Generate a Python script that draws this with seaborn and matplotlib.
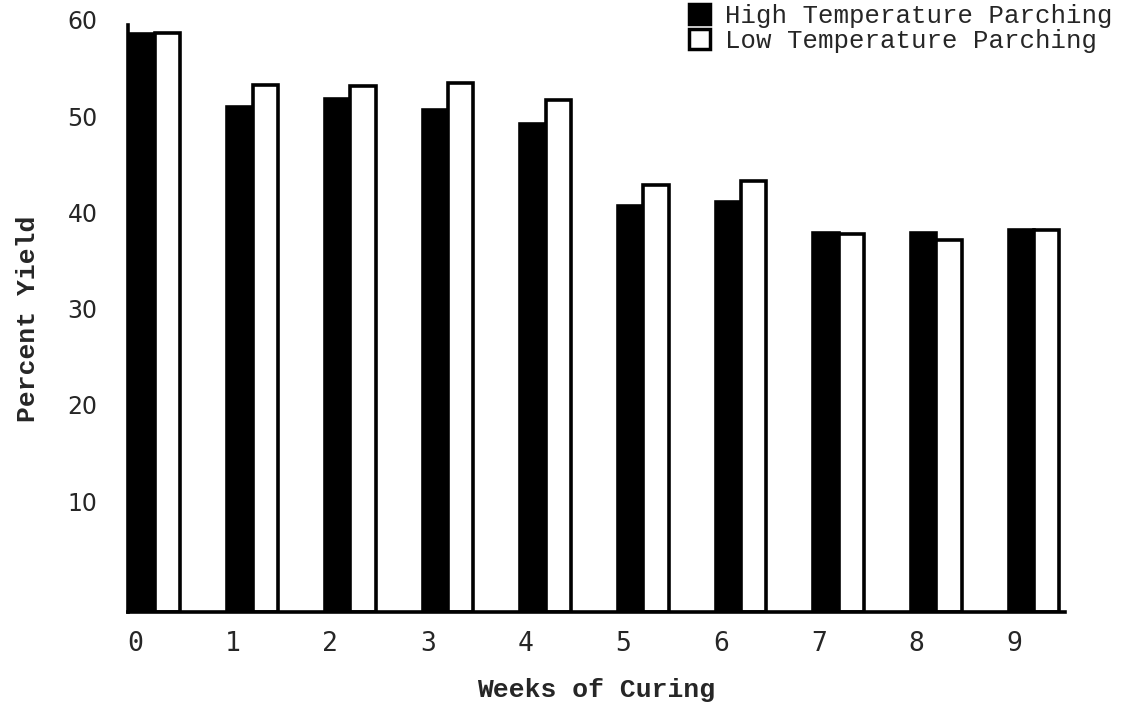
import numpy as np
import pandas as pd
import matplotlib
matplotlib.use("Agg")
import matplotlib.pyplot as plt
from matplotlib.patches import Patch
import seaborn as sns

# data
weeks = [0, 1, 2, 3, 4, 5, 6, 7, 8, 9]
high_temp = [60.0, 52.5, 53.3, 52.2, 50.7, 42.2, 42.6, 39.4, 39.4, 39.7]
low_temp = [60.2, 54.7, 54.6, 55.0, 53.2, 44.4, 44.8, 39.3, 38.6, 39.7]
series_names = ["High Temperature Parching", "Low Temperature Parching"]
y_ticks = [10, 20, 30, 40, 50, 60]

df = pd.DataFrame({
    "Week": weeks * 2,
    "Yield": high_temp + low_temp,
    "Treatment": [series_names[0]] * len(weeks) + [series_names[1]] * len(weeks),
})

sns.set_style("white")
plt.rcParams["font.family"] = ["Liberation Mono", "DejaVu Sans Mono"]
# hand-lettered y numbers sit a bit above their tick marks
plt.rcParams["ytick.alignment"] = "bottom"

fig = plt.figure(figsize=(11.45, 7.09), dpi=100)
ax = fig.add_axes([0.112, 0.137, 0.818, 0.828])

sns.barplot(
    data=df, x="Week", y="Yield", hue="Treatment",
    palette={series_names[0]: "black", series_names[1]: "white"},
    width=0.52, edgecolor="black", linewidth=2.6,
    errorbar=None, legend=False, ax=ax,
)

# ticks sit a little left of each bar pair, as in the hand-drawn original
shift = 0.205
ax.set_xticks(np.arange(len(weeks)) - shift)
ax.set_xticklabels([str(w) for w in weeks], fontsize=19, family="DejaVu Sans Mono")
ax.set_xlim(-0.07 - shift, 9.52 - shift)

ax.set_ylim(0, 61)
ax.set_yticks(y_ticks)
ax.set_yticklabels([str(t) for t in y_ticks], fontsize=17, family="DejaVu Sans")

ax.tick_params(axis="y", direction="out", length=6, width=2.5, pad=16, color="black")
ax.tick_params(axis="x", direction="out", length=8, width=2.5, pad=6, color="black")

for side in ["top", "right"]:
    ax.spines[side].set_visible(False)
for side in ["left", "bottom"]:
    ax.spines[side].set_color("black")
    ax.spines[side].set_linewidth(2.6)

ax.set_xlabel("Weeks of Curing", fontsize=19, fontweight="bold", labelpad=15)
ax.set_ylabel("Percent Yield", fontsize=19, fontweight="bold", labelpad=20)

handles = [
    Patch(facecolor="black", edgecolor="black", linewidth=2.5),
    Patch(facecolor="white", edgecolor="black", linewidth=2.5),
]
fig.legend(handles, series_names, loc="upper left",
           bbox_to_anchor=(0.586, 1.02), frameon=False, fontsize=18.5,
           handlelength=0.8, handleheight=0.8, handletextpad=0.6,
           labelspacing=0.05, borderpad=0.2)

fig.savefig("out.png", dpi=100, facecolor="white")
